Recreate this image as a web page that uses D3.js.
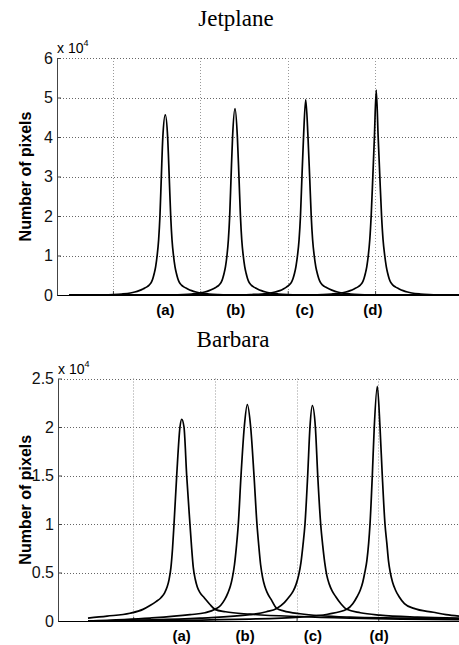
<!DOCTYPE html>
<html>
<head>
<meta charset="utf-8">
<script src="https://cdn.jsdelivr.net/npm/d3@7"></script>
<style>
  html, body { margin: 0; padding: 0; background: #fff; }
  svg { display: block; }
</style>
</head>
<body>
<div id="chart"></div>
<script>
// peak labels under the curves
var peakLabels = ["(a)", "(b)", "(c)", "(d)"];

// ---- Jetplane: histograms, values in units of 10^4 pixels ----
var jetA = [[14,0],[54,0.005],[64,0.012],[74,0.025],[84,0.05],[89,0.075],[94,0.11],[99,0.16],[102.4,0.2],[105.4,0.25],[107.9,0.32],[109.7,0.42],[111.3,0.55],[112.9,0.72],[114.6,1.0],[116.3,1.4],[117.8,2.0],[119.4,3.0],[121.1,4.0],[123.9,4.56],
    [126.6,4.0],[128.4,3.0],[130.1,2.0],[131.6,1.4],[133.3,1.0],[135,0.72],[136.6,0.55],[138.2,0.42],[140,0.32],[142.5,0.25],[145.5,0.2],[149,0.16],[154,0.11],[159,0.075],[164,0.05],[174,0.025],[184,0.012],[194,0.005],[460,0]];
var jetB = [[14,0],[134,0.005],[144,0.012],[154,0.025],[164,0.05],[169,0.075],[174,0.11],[179,0.16],[182.3,0.2],[185.3,0.25],[187.8,0.32],[189.6,0.42],[191.2,0.55],[192.8,0.72],[194.5,1.0],[196.1,1.4],[197.6,2.0],[199.2,3.0],[200.9,4.0],[203.7,4.72],
    [206.4,4.0],[208.2,3.0],[209.9,2.0],[211.4,1.4],[213.1,1.0],[214.8,0.72],[216.4,0.55],[218,0.42],[219.8,0.32],[222.3,0.25],[225.3,0.2],[228.8,0.16],[233.8,0.11],[238.8,0.075],[243.8,0.05],[253.8,0.025],[263.8,0.012],[273.8,0.005],[460,0]];
var jetC = [[14,0],[213,0.005],[223,0.012],[234,0.025],[244,0.05],[249.5,0.075],[255,0.11],[259.5,0.16],[262.5,0.2],[265.5,0.25],[268.2,0.32],[270.1,0.42],[271.8,0.55],[273.4,0.72],[275.2,1.0],[277,1.4],[278.6,2.0],[280.3,3.0],[282.1,4.0],[284.6,4.95],
    [287.2,4.0],[289.1,3.0],[290.9,2.0],[292.5,1.4],[294.3,1.0],[296.1,0.72],[297.8,0.55],[299.5,0.42],[301.4,0.32],[304,0.25],[307.2,0.2],[311,0.16],[316,0.11],[321,0.075],[326,0.05],[336,0.025],[346,0.012],[356,0.005],[460,0]];
var jetD = [[14,0],[294,0.005],[304,0.012],[314,0.025],[325,0.05],[330.5,0.075],[335.5,0.11],[340.5,0.16],[344,0.2],[347,0.25],[349.5,0.32],[351.3,0.42],[352.9,0.55],[354.5,0.72],[356.2,1.0],[357.9,1.4],[359.5,2.0],[361.4,3.0],[363.2,4.0],[365.3,5.19],
    [367.5,4.0],[369.4,3.0],[371.4,2.0],[373.1,1.4],[375,1.0],[376.8,0.72],[378.4,0.55],[380,0.42],[381.9,0.32],[384.4,0.25],[387.5,0.2],[391,0.16],[396,0.11],[401,0.075],[406,0.05],[416,0.025],[426,0.012],[436,0.005],[460,0]];
var jetLabelX = [124, 204.5, 283.5, 361.5];
var jetYTicks = [0, 1, 2, 3, 4, 5, 6];
var jetXGrid = [64, 164, 264, 364];

// ---- Barbara ----
var barA = [[36.7,0.03],[60,0.05],[88,0.08],[104,0.12],[112.6,0.16],[120,0.2],[126,0.24],[130.5,0.29],[133.5,0.35],[136,0.43],[138.2,0.55],[140.2,0.75],[142,1.0],[145.3,1.5],[149.3,2.0],[151.4,2.08],
    [154.2,2.0],[157.5,1.5],[161.5,1.0],[163.6,0.75],[165.6,0.55],[168,0.43],[170.5,0.35],[174,0.29],[179,0.24],[186,0.17],[192.2,0.12],[205,0.095],[235,0.07],[296,0.045],[357,0.03],[420,0.02],[490.8,0.015]];
var barB = [[36.7,0],[112.6,0.03],[161.6,0.065],[180,0.085],[192.2,0.12],[199,0.16],[204,0.22],[208,0.29],[211,0.36],[213.5,0.45],[216,0.58],[218.5,0.78],[220.7,1.0],[224,1.5],[228,2.0],[231.7,2.23],
    [235.8,2.0],[239.9,1.5],[243.5,1.0],[245.7,0.78],[248,0.58],[250.4,0.45],[253,0.36],[256.2,0.29],[261,0.22],[267.7,0.13],[276,0.105],[296.2,0.075],[357.4,0.04],[420,0.03],[490.8,0.02]];
var barC = [[36.7,0],[173.8,0.03],[235,0.065],[255,0.095],[267.7,0.13],[277,0.19],[283,0.25],[288,0.31],[291.5,0.38],[294.5,0.47],[297.3,0.6],[299.8,0.78],[302.3,1.0],[305.6,1.5],[308.4,2.0],[311.3,2.22],
    [315,2.0],[317.9,1.5],[321.5,1.0],[324,0.78],[326.5,0.6],[329,0.47],[332,0.38],[335.5,0.31],[340,0.25],[346,0.18],[353.4,0.12],[370,0.085],[394,0.06],[440,0.04],[490.8,0.03]];
var barD = [[36.7,0],[235,0.02],[296,0.04],[330,0.07],[353.4,0.12],[361,0.18],[366,0.25],[370,0.32],[373,0.4],[375.5,0.5],[378,0.62],[380.2,0.8],[381.9,1.0],[384.7,1.5],[387.1,2.0],[390.8,2.42],
    [394.1,2.0],[396.9,1.5],[400.2,1.0],[402.5,0.8],[404.5,0.62],[406.7,0.5],[409.5,0.4],[413,0.32],[417.5,0.25],[424,0.18],[435.6,0.13],[459.4,0.09],[475,0.065],[490.8,0.05]];
var barLabelX = [151.4, 229, 312, 393];
var barYTicks = [0, 0.5, 1, 1.5, 2, 2.5];
var barXGrid = [92, 192, 292, 392];

var width = 459, height = 645;

var svg = d3.select("#chart")
    .append("svg")
    .attr("width", width)
    .attr("height", height);

function drawPanel(p) {
    var x = d3.scaleLinear().domain(p.xDomain).range([p.left, p.right]);
    var y = d3.scaleLinear().domain(p.yDomain).range([p.bottom, p.top]);
    var g = svg.append("g");

    // title
    g.append("text")
        .attr("x", p.titleX)
        .attr("y", p.top - 32)
        .attr("text-anchor", "middle")
        .style("font-family", "'Liberation Serif', 'Times New Roman', serif")
        .style("font-size", "23px")
        .text(p.title);

    // dotted grid
    g.append("g").selectAll("line")
        .data(p.yTicks.filter(function (d) { return d > 0; }))
        .enter().append("line")
        .attr("x1", p.left).attr("x2", p.right)
        .attr("y1", function (d) { return Math.round(y(d)) + 0.5; })
        .attr("y2", function (d) { return Math.round(y(d)) + 0.5; })
        .attr("stroke", "#666")
        .attr("stroke-dasharray", "1,2");
    g.append("g").selectAll("line")
        .data(p.xGrid)
        .enter().append("line")
        .attr("x1", function (d) { return Math.round(x(d)) + 0.5; })
        .attr("x2", function (d) { return Math.round(x(d)) + 0.5; })
        .attr("y1", p.top).attr("y2", p.bottom)
        .attr("stroke", "#999")
        .attr("stroke-dasharray", "1,2");

    // axes (matlab style, ticks inside)
    var yAxis = d3.axisLeft(y).tickValues(p.yTicks).tickSizeInner(-4).tickSizeOuter(0).tickPadding(4)
        .tickFormat(d3.format("~g"));
    var ya = g.append("g").attr("transform", "translate(" + p.left + ",0)").call(yAxis);
    ya.select(".domain").attr("stroke", "#444");
    ya.selectAll(".tick line").attr("stroke", "#444");
    ya.selectAll("text")
        .style("font-family", "'Liberation Sans', Arial, sans-serif")
        .style("font-size", "16px")
        .attr("fill", "#111");

    var xAxis = d3.axisBottom(x).tickValues(p.xGrid).tickSizeInner(-4).tickSizeOuter(0).tickFormat("");
    var xa = g.append("g").attr("transform", "translate(0," + p.bottom + ")").call(xAxis);
    xa.select(".domain").attr("stroke", "#000");
    xa.selectAll(".tick line").attr("stroke", "#444");

    // x 10^4 multiplier
    var mult = g.append("text")
        .attr("x", p.left)
        .attr("y", p.top - 5)
        .style("font-family", "'Liberation Sans', Arial, sans-serif")
        .style("font-size", "14px");
    mult.append("tspan").text("x 10");
    mult.append("tspan").attr("dy", -7).style("font-size", "9px").text("4");

    // y label
    g.append("text")
        .attr("transform", "translate(31," + ((p.top + p.bottom) / 2) + ") rotate(-90)")
        .attr("text-anchor", "middle")
        .style("font-family", "'Liberation Sans', Arial, sans-serif")
        .style("font-size", "16px")
        .style("font-weight", "bold")
        .text("Number of pixels");

    // curves
    var line = d3.line()
        .x(function (d) { return x(d[0]); })
        .y(function (d) { return y(d[1]); })
        .curve(d3.curveMonotoneX);
    g.append("g").selectAll("path")
        .data(p.series)
        .enter().append("path")
        .attr("d", line)
        .attr("fill", "none")
        .attr("stroke", "#000")
        .attr("stroke-width", 1.7)
        .attr("stroke-linejoin", "round");

    // peak labels
    g.append("g").selectAll("text")
        .data(p.labelX)
        .enter().append("text")
        .attr("x", function (d) { return x(d); })
        .attr("y", p.bottom + 20)
        .attr("text-anchor", "middle")
        .style("font-family", "'Liberation Sans', Arial, sans-serif")
        .style("font-size", "15px")
        .style("font-weight", "bold")
        .text(function (d, i) { return peakLabels[i]; });
}

drawPanel({
    title: "Jetplane", titleX: 236,
    left: 57, right: 459, top: 58, bottom: 295,
    xDomain: [0, 460], yDomain: [0, 6],
    yTicks: jetYTicks, xGrid: jetXGrid,
    series: [jetA, jetB, jetC, jetD], labelX: jetLabelX
});
drawPanel({
    title: "Barbara", titleX: 233,
    left: 58, right: 459, top: 378.5, bottom: 621,
    xDomain: [0, 490.8], yDomain: [0, 2.5],
    yTicks: barYTicks, xGrid: barXGrid,
    series: [barA, barB, barC, barD], labelX: barLabelX
});
</script>
</body>
</html>
